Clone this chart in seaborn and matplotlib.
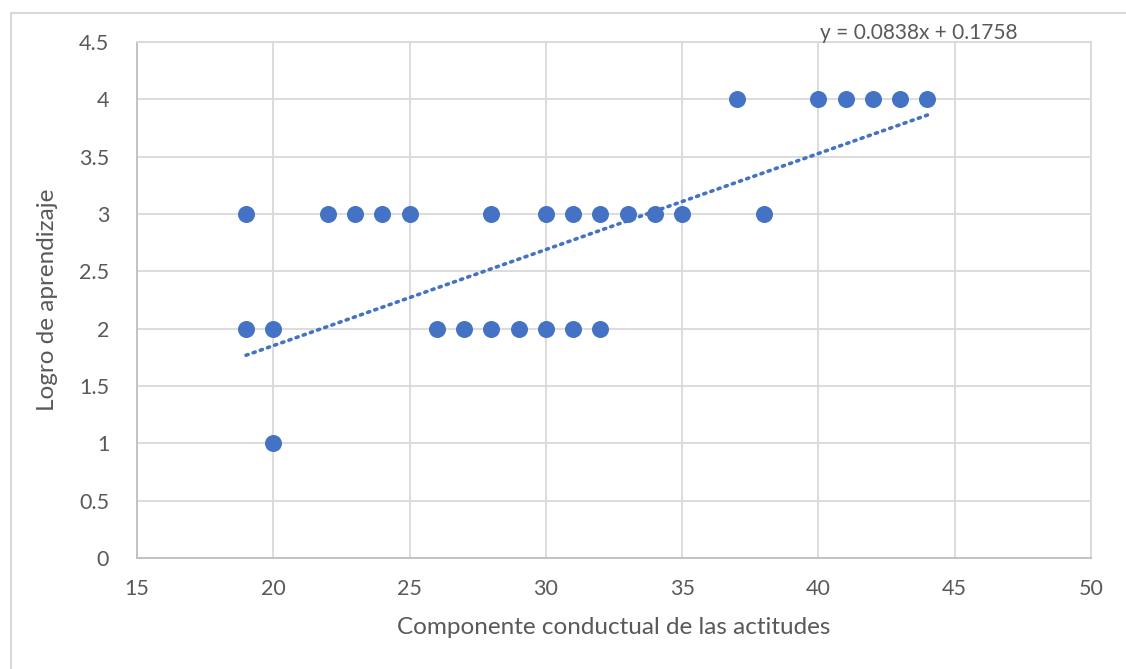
import numpy as np
import pandas as pd
import matplotlib
matplotlib.use("Agg")
import matplotlib.pyplot as plt
import seaborn as sns
from matplotlib.patches import Rectangle

# ---- data ----
x_values = [19, 19, 20, 20, 22, 23, 24, 25, 26, 27, 28, 28, 29, 30, 30,
            31, 31, 32, 32, 33, 34, 35, 37, 38, 40, 41, 42, 43, 44]
y_values = [3, 2, 2, 1, 3, 3, 3, 3, 2, 2, 3, 2, 2, 3, 2,
            3, 2, 3, 2, 3, 3, 3, 4, 3, 4, 4, 4, 4, 4]
trend_slope = 0.0838
trend_intercept = 0.1758
trend_label = "y = 0.0838x + 0.1758"
x_ticks = [15, 20, 25, 30, 35, 40, 45, 50]
y_ticks = [0, 0.5, 1, 1.5, 2, 2.5, 3, 3.5, 4, 4.5]
x_title = "Componente conductual de las actitudes"
y_title = "Logro de aprendizaje"

BLUE = "#4472C4"
GRID = "#D9D9D9"
TEXT = "#595959"

sns.set_theme(style="white")
plt.rcParams["font.family"] = ["Lato", "DejaVu Sans"]

fig = plt.figure(figsize=(11.26, 6.69), dpi=100)
ax = fig.add_axes([137/1126, 1-558/669, (1091-137)/1126, (558-42)/669])

df = pd.DataFrame({"x": x_values, "y": y_values})
sns.scatterplot(data=df, x="x", y="y", ax=ax, color=BLUE, s=150,
                edgecolor=BLUE, linewidth=0, zorder=3)

tx = np.array([min(x_values), max(x_values)], dtype=float)
ty = trend_slope * tx + trend_intercept
sns.lineplot(x=tx, y=ty, ax=ax, color=BLUE, linewidth=2.6,
             linestyle=(0, (0.6, 1.5)), dash_capstyle="round", zorder=4)

ax.set_xlim(15, 50)
ax.set_ylim(0, 4.5)
ax.set_xticks(x_ticks)
ax.set_xticklabels([str(t) for t in x_ticks])
ax.set_yticks(y_ticks)
ax.set_yticklabels([f"{t:g}" for t in y_ticks])
ax.grid(True, color=GRID, linewidth=1.3)
ax.set_axisbelow(True)
for s in ax.spines.values():
    s.set_color(GRID)
    s.set_linewidth(1.3)
ax.spines["left"].set_color("#BFBFBF")
ax.spines["bottom"].set_color("#BFBFBF")
ax.tick_params(axis="both", length=0, labelsize=15.5, labelcolor=TEXT)
ax.tick_params(axis="x", pad=15)
ax.tick_params(axis="y", pad=20)
ax.set_xlabel(x_title, fontsize=17.5, color=TEXT, labelpad=13)
ax.set_ylabel(y_title, fontsize=17.5, color=TEXT, labelpad=15)

ax.text(40.06, 4.578, trend_label, fontsize=15, color=TEXT,
        ha="left", va="center", clip_on=False)

fig.patches.append(Rectangle((11/1126, -0.1), 1.2, 1 - 13/669 + 0.1,
                             transform=fig.transFigure, fill=False,
                             edgecolor=GRID, linewidth=1.5))

fig.savefig("out.png", dpi=100)
